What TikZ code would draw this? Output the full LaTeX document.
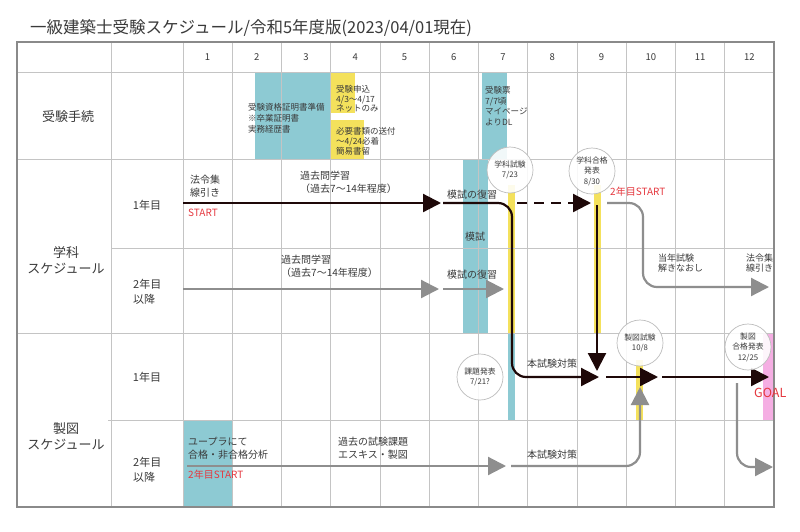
\documentclass[tikz,border=0pt]{standalone}
\usepackage{fontspec}
\setmainfont{Noto Sans CJK JP}
\usetikzlibrary{arrows.meta}
\definecolor{myteal}{HTML}{8DCAD3}
\definecolor{myyellow}{HTML}{F4E15C}
\definecolor{mypink}{HTML}{F5AEE3}
\definecolor{gridc}{HTML}{C4C4C4}
\definecolor{borderc}{HTML}{8A8A8A}
\definecolor{blkc}{HTML}{1E0808}
\definecolor{gryc}{HTML}{8E8E8E}
\definecolor{redc}{HTML}{E5383F}
\definecolor{textc}{HTML}{3A3A3A}
\definecolor{circc}{HTML}{BDBDBD}
\tikzset{
  gridline/.style={draw=gridc, line width=0.7pt},
  txt/.style={font=\fontsize{10}{13}\selectfont, text=textc, inner sep=0pt, align=left, anchor=west},
  smalltxt/.style={txt, font=\fontsize{8.5}{10.5}\selectfont},
  lbl/.style={font=\fontsize{13}{16}\selectfont, text=textc, inner sep=0pt, align=center},
  sublbl/.style={font=\fontsize{11}{15}\selectfont, text=textc, inner sep=0pt, align=left},
  hdr/.style={font=\fontsize{9.5}{11}\selectfont, text=textc, inner sep=0pt},
  redtxt/.style={font=\fontsize{10}{12}\selectfont, text=redc, inner sep=0pt, anchor=west},
  blk/.style={draw=blkc, line width=2.2pt, -{Triangle[length=18pt,width=18pt]}},
  gry/.style={draw=gryc, line width=2.2pt, -{Triangle[length=18pt,width=18pt]}},
  circ/.style={circle, draw=circc, line width=0.7pt, fill=white, fill opacity=0.88, text opacity=1,
     minimum size=46pt, inner sep=0pt, font=\fontsize{7.8}{10.5}\selectfont, text=textc, align=center},
}
\begin{document}
\begin{tikzpicture}[x=1pt,y=-1pt]
\path[use as bounding box] (0,0) rectangle (800,531);
\fill[white] (0,0) rectangle (800,531);

% title
\node[anchor=west, inner sep=0pt, font=\fontsize{16.5}{19}\selectfont, text=textc] (title) at (30,28)
  {一級建築士受験スケジュール/令和5年度版(2023/04/01現在)};

% colour bars
\fill[myteal] (255,72) rectangle (330,159);
\fill[myteal] (482,72) rectangle (507,159);
\fill[myteal] (463,159) rectangle (488,333);
\fill[myteal] (508,333) rectangle (515,420);
\fill[myteal] (183,420) rectangle (232,507);
\fill[myyellow] (330,72) rectangle (355,113);
\fill[myyellow] (330,120) rectangle (364,159);
\fill[myyellow] (508,185) rectangle (515,333);
\fill[myyellow] (594,185) rectangle (601,333);
\fill[myyellow] (636,360) rectangle (643,420);
\fill[mypink] (763,333) rectangle (773,420);

% grid
\foreach \k in {0,...,11} {
  \draw[gridline] ({183+49.25*\k},42) -- ({183+49.25*\k},507);
}
\draw[gridline] (111,42) -- (111,507);
\draw[gridline] (17,72) -- (774,72);
\draw[gridline] (17,159) -- (774,159);
\draw[gridline] (111,248) -- (774,248);
\draw[gridline] (17,333) -- (774,333);
\draw[gridline] (108,420) -- (774,420);
\draw[draw=borderc, line width=1.2pt] (17,42) rectangle (774,507);

% header
\foreach \i in {1,...,12} {
  \node[hdr] (m\i) at ({183+49.25*(\i-0.5)},57) {\i};
}

% row labels
\node[lbl] (rowproc) at (68,117) {受験手続};
\node[lbl] (rowgaku) at (66,260) {学科\\スケジュール};
\node[lbl] (rowsei) at (66,436) {製図\\スケジュール};
\node[sublbl] (g1) at (147,205) {1年目};
\node[sublbl, anchor=west] (g2) at (133,292) {2年目\\以降};
\node[sublbl] (s1) at (147,377) {1年目};
\node[sublbl, anchor=west] (s2) at (133,469.5) {2年目\\以降};

% procedure texts
\node[smalltxt, font=\fontsize{8.5}{11}\selectfont] (t1) at (248,118) {受験資格証明書準備\\※卒業証明書\\実務経歴書};
\node[smalltxt, font=\fontsize{8.5}{9.5}\selectfont] (t2) at (336,99) {受験申込\\4/3〜4/17\\ネットのみ};
\node[smalltxt, font=\fontsize{8.5}{10}\selectfont] (t3) at (336,141) {必要書類の送付\\〜4/24必着\\簡易書留};
\node[smalltxt, font=\fontsize{8.5}{10.5}\selectfont] (t4) at (485,106) {受験票\\7/7頃\\マイページ\\よりDL};

% gakka texts
\node[txt] (hr1) at (190,186.5) {法令集\\線引き};
\node[txt] (kk1) at (300,182) {過去問学習\\（過去7〜14年程度）};
\node[redtxt] (st1) at (188,213) {START};
\node[txt] (mf1) at (447,195) {模試の復習};
\node[txt, anchor=center] (moshi) at (475,237) {模試};
\node[txt] (kk2) at (281,266.5) {過去問学習\\（過去7〜14年程度）};
\node[txt] (mf2) at (447,275) {模試の復習};
\node[redtxt] (st2) at (610,192) {2年目START};
\node[smalltxt, font=\fontsize{9}{10.5}\selectfont] (tn) at (658,263) {当年試験\\解きなおし};
\node[smalltxt, font=\fontsize{9}{10.5}\selectfont] (hr2) at (746,263) {法令集\\線引き};

% seizu texts
\node[txt] (hs1) at (527,364) {本試験対策};
\node[txt] (hs2) at (527,455) {本試験対策};
\node[txt] (yu) at (188,448.5) {ユープラにて\\合格・非合格分析};
\node[txt] (kako) at (338,448.5) {過去の試験課題\\エスキス・製図};
\node[redtxt] (st3) at (188,475) {2年目START};
\node[redtxt, font=\fontsize{12.5}{14}\selectfont] (goal) at (754,393) {GOAL};

% coordinates for connectors
\coordinate (a1s) at (183,203);  \coordinate (a1e) at (441,203);
\coordinate (a2s) at (443,203);  \coordinate (a2c) at (512,377); \coordinate (a2e) at (599,377);
\coordinate (a3s) at (517,203);  \coordinate (a3e) at (591,203);
\coordinate (a4s) at (597,205);  \coordinate (a4e) at (597,371);
\coordinate (a5s) at (607,203);  \coordinate (a5c) at (643,287); \coordinate (a5e) at (769,287);
\coordinate (b1s) at (183,289);  \coordinate (b1e) at (439,289);
\coordinate (b2s) at (443,289);  \coordinate (b2e) at (504,289);
\coordinate (c1s) at (606,377);  \coordinate (c1e) at (658,377);
\coordinate (c2s) at (662,377);  \coordinate (c2e) at (769,377);
\coordinate (d1s) at (187,466);  \coordinate (d1e) at (506,466);
\coordinate (d2s) at (511,466);  \coordinate (d2e) at (640,387);
\coordinate (d3s) at (737,383);  \coordinate (d3e) at (773,467);

% connectors
\draw[blk] (a1s) -- (a1e);
\draw[blk, rounded corners=14pt] (a2s) -| (a2c) -- (a2e);
\draw[blk, dash pattern=on 10pt off 7pt] (a3s) -- (a3e);
\draw[blk] (a4s) -- (a4e);
\draw[gry, rounded corners=14pt] (a5s) -| (a5c) -- (a5e);
\draw[gry] (b1s) -- (b1e);
\draw[gry] (b2s) -- (b2e);
\draw[blk] (c1s) -- (c1e);
\draw[blk] (c2s) -- (c2e);
\draw[gry] (d1s) -- (d1e);
\draw[gry, rounded corners=14pt] (d2s) -| (d2e);
\draw[gry, rounded corners=14pt] (d3s) |- (d3e);

% event circles
\node[circ] (ev1) at (510,170) {学科試験\\7/23};
\node[circ] (ev2) at (592,171) {学科合格\\発表\\8/30};
\node[circ] (ev3) at (480,377) {課題発表\\7/21?};
\node[circ] (ev4) at (640,343) {製図試験\\10/8};
\node[circ] (ev5) at (748,347) {製図\\合格発表\\12/25};
\end{tikzpicture}
\end{document}
